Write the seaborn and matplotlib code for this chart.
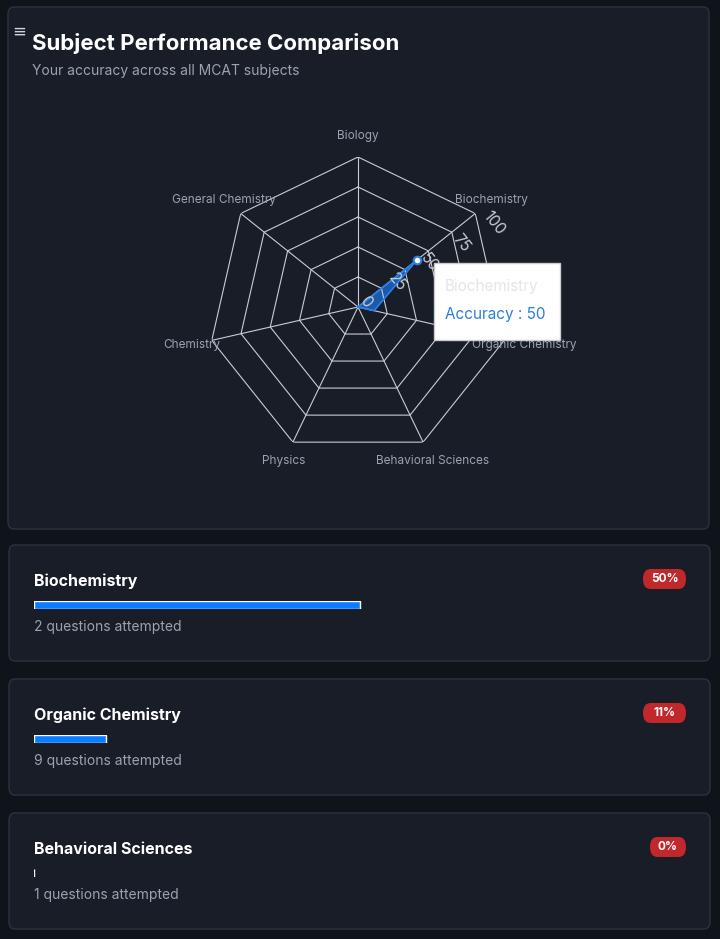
import numpy as np
import seaborn as sns
import matplotlib.pyplot as plt
from matplotlib.patches import FancyBboxPatch

sns.set_theme(style="dark")
plt.rcParams['font.family'] = ['Inter', 'DejaVu Sans']

subjects = ['Biology', 'Biochemistry', 'Organic Chemistry', 'Behavioral Sciences',
            'Physics', 'Chemistry', 'General Chemistry']
accuracy = [0, 50, 11, 0, 0, 0, 0]
radial_ticks = [0, 25, 50, 75, 100]

card_names = ['Biochemistry', 'Organic Chemistry', 'Behavioral Sciences']
card_pct = [50, 11, 0]
card_questions = [2, 9, 1]

W, H = 720, 939
BG = '#0f131a'
CARD = '#181d27'
EDGE = '#2c3340'
fig = plt.figure(figsize=(W / 100, H / 100), dpi=100, facecolor=BG)

def fx(x): return x / W
def fy(y): return 1 - y / H

def card(x0, y0, x1, y1):
    fig.patches.append(FancyBboxPatch((fx(x0), fy(y1)), fx(x1 - x0), (y1 - y0) / H,
                                      boxstyle="round,pad=0,rounding_size=0.008",
                                      transform=fig.transFigure, fc=CARD, ec=EDGE, lw=1,
                                      zorder=-5))

card(8, 7, 709, 529)
fig.text(fx(12), fy(32), '≡', color='#d0d4dc', fontsize=12, va='center')
fig.text(fx(32), fy(43), 'Subject Performance Comparison', color='white',
         fontsize=16, fontweight='bold', va='center')
fig.text(fx(32), fy(71), 'Your accuracy across all MCAT subjects', color='#9aa3b2',
         fontsize=10, va='center')

# radar
cx, cy, R = 358, 307, 150
ax = fig.add_axes([fx(cx - R), fy(cy + R), 2 * R / W, 2 * R / H], projection='polar')
ax.set_zorder(1)
ax.set_facecolor('none')
ax.set_theta_zero_location('N')
ax.set_theta_direction(-1)
ax.set_ylim(0, 100)
ax.grid(False)
ax.spines['polar'].set_visible(False)
ax.set_xticks([]); ax.set_yticks([])
n = len(subjects)
ang = np.arange(n) * 2 * np.pi / n
ang_c = np.append(ang, ang[0])
for r in [20, 40, 60, 80, 100]:
    ax.plot(ang_c, [r] * (n + 1), color='#c8ccd4', lw=0.8)
for a in ang:
    ax.plot([a, a], [0, 100], color='#c8ccd4', lw=0.8)
vals = np.append(accuracy, accuracy[0])
ax.fill(ang_c, vals, color='#1d6fd8', alpha=0.75)
ax.plot(ang_c, vals, color='#2a7de1', lw=1.2)
ax.scatter([ang[1]], [accuracy[1]], s=30, facecolor='white', edgecolor='#2a7de1', lw=1.5, zorder=5)
for t in radial_ticks:
    ax.text(ang[1] + 0.12, t + 6, str(t), color='#c8ccd4', fontsize=11,
            rotation=-51, ha='center', va='center')
for a, s in zip(ang, subjects):
    ax.text(a, 114, s, color='#9aa3b2', fontsize=8.5, ha='center', va='center')

# tooltip
fig.patches.append(plt.Rectangle((fx(434), fy(340)), fx(126), 77 / H, transform=fig.transFigure,
                                 fc='white', ec='#cccccc', lw=1, zorder=10))
fig.text(fx(445), fy(286), 'Biochemistry', color='#e6e6e6', fontsize=11, va='center', zorder=11)
fig.text(fx(445), fy(314), 'Accuracy : 50', color='#2a7de1', fontsize=11, va='center', zorder=11)

# progress cards
for i, (name, pct, q) in enumerate(zip(card_names, card_pct, card_questions)):
    top = 545 + i * 134
    card(9, top, 710, top + 116)
    fig.text(fx(34), fy(top + 36), name, color='white', fontsize=11.5, fontweight='bold', va='center')
    fig.text(fx(34), fy(top + 82), f'{q} questions attempted', color='#9aa3b2', fontsize=10, va='center')
    label = f'{pct}%'
    bw = 22 + 7 * len(label)
    fig.patches.append(FancyBboxPatch((fx(686 - bw), fy(top + 44)), fx(bw), 20 / H,
                                      boxstyle="round,pad=0,rounding_size=0.0105",
                                      transform=fig.transFigure, fc='#c0282c', ec='none', zorder=2))
    fig.text(fx(686 - bw / 2), fy(top + 34), label, color='white', fontsize=8.5,
             fontweight='bold', ha='center', va='center', zorder=3)
    bax = fig.add_axes([fx(34), fy(top + 64), fx(652), 8 / H])
    bax.set_zorder(1)
    sns.barplot(x=[pct], y=[0], orient='h', color='#0a7cff', width=1, ax=bax,
                saturation=1)
    bax.set_xlim(0, 100)
    bax.set_ylim(0.5, -0.5)
    bax.axis('off')
    bax.patch.set_visible(True)
    bax.patch.set_facecolor('#262c38')

fig.savefig('out.png', dpi=100, facecolor=BG)
